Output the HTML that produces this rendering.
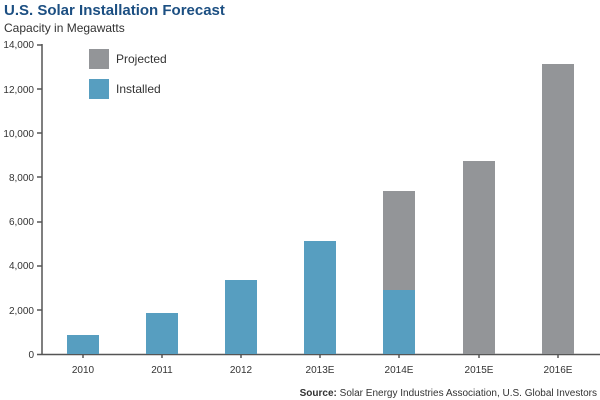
<!DOCTYPE html>
<html><head><style>
body{margin:0;background:#fff;}
svg{display:block;font-family:"Liberation Sans",sans-serif;}
</style></head><body>
<svg width="600" height="400" viewBox="0 0 600 400">
<text x="4" y="15" font-size="15" font-weight="bold" fill="#1c4f82">U.S. Solar Installation Forecast</text>
<text x="4" y="32" font-size="12" fill="#333">Capacity in Megawatts</text>
<g font-size="10" fill="#333" text-anchor="end">
<text x="34" y="48">14,000</text>
<text x="34" y="93">12,000</text>
<text x="34" y="137">10,000</text>
<text x="34" y="181">8,000</text>
<text x="34" y="225">6,000</text>
<text x="34" y="269">4,000</text>
<text x="34" y="314">2,000</text>
<text x="34" y="358">0</text>
</g>
<g stroke="#555" stroke-width="1.5">
<line x1="42" y1="44" x2="42" y2="355"/>
<line x1="37" y1="354.5" x2="600" y2="354.5"/>
<line x1="37" y1="45" x2="42" y2="45"/>
<line x1="37" y1="89" x2="42" y2="89"/>
<line x1="37" y1="133" x2="42" y2="133"/>
<line x1="37" y1="177" x2="42" y2="177"/>
<line x1="37" y1="222" x2="42" y2="222"/>
<line x1="37" y1="266" x2="42" y2="266"/>
<line x1="37" y1="310" x2="42" y2="310"/>
<line x1="83" y1="354" x2="83" y2="358"/>
<line x1="162" y1="354" x2="162" y2="358"/>
<line x1="241" y1="354" x2="241" y2="358"/>
<line x1="320" y1="354" x2="320" y2="358"/>
<line x1="399" y1="354" x2="399" y2="358"/>
<line x1="479" y1="354" x2="479" y2="358"/>
<line x1="558" y1="354" x2="558" y2="358"/>
</g>
<rect x="89" y="49" width="20" height="20" fill="#939598"/>
<rect x="89" y="79" width="20" height="20" fill="#579ec0"/>
<text x="116" y="63" font-size="12" fill="#333">Projected</text>
<text x="116" y="93" font-size="12" fill="#333">Installed</text>
<g fill="#579ec0">
<rect x="67" y="335" width="32" height="19"/>
<rect x="146" y="313" width="32" height="41"/>
<rect x="225" y="280" width="32" height="74"/>
<rect x="304" y="241" width="32" height="113"/>
<rect x="383" y="290" width="32" height="64"/>
</g>
<g fill="#939598">
<rect x="383" y="191" width="32" height="99"/>
<rect x="463" y="161" width="32" height="193"/>
<rect x="542" y="64" width="32" height="290"/>
</g>
<g font-size="10" fill="#333" text-anchor="middle">
<text x="83" y="373">2010</text>
<text x="162" y="373">2011</text>
<text x="241" y="373">2012</text>
<text x="320" y="373">2013E</text>
<text x="399" y="373">2014E</text>
<text x="479" y="373">2015E</text>
<text x="558" y="373">2016E</text>
</g>
<text x="597" y="396" font-size="10" fill="#333" text-anchor="end"><tspan font-weight="bold">Source:</tspan> Solar Energy Industries Association, U.S. Global Investors</text>
</svg>
</body></html>
